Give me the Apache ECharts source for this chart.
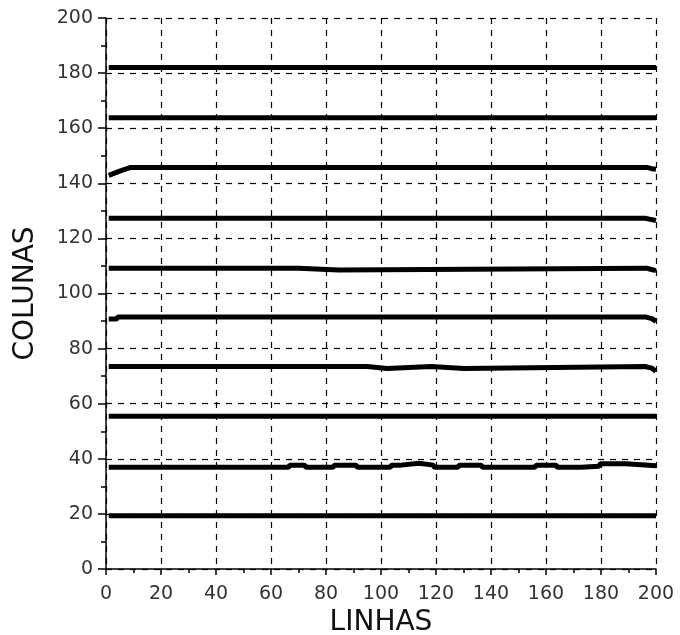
<!DOCTYPE html>
<html>
<head>
<meta charset="utf-8">
<script src="https://cdn.jsdelivr.net/npm/echarts@6/dist/echarts.min.js"></script>
<style>html,body{margin:0;padding:0;background:#fff}#c{width:680px;height:635px}</style>
</head>
<body>
<div id="c"></div>
<script>
var xTicks = [0, 20, 40, 60, 80, 100, 120, 140, 160, 180, 200];
var yTicks = [0, 20, 40, 60, 80, 100, 120, 140, 160, 180, 200];
var xAxisTitle = 'LINHAS';
var yAxisTitle = 'COLUNAS';

var line182 = [[1,182.0],[200,182.0]];
var line164 = [[1,163.8],[200,163.8]];
var line146 = [[1,142.9],[5,144.4],[8.7,145.7],[197,145.7],[198.5,145.3],[200,145.1]];
var line127 = [[1,127.3],[196,127.3],[198,126.9],[200,126.5]];
var line109 = [[1,109.2],[70,109.2],[70.3,108.5],[84.7,108.5],[85,109.2],[196.5,109.2],[198,108.8],[200,108.3]];
var line91  = [[1,90.7],[3.9,90.7],[4.3,91.5],[196,91.5],[198.5,90.9],[200,89.9]];
var line73  = [[1,73.5],[95,73.5],[95.3,72.8],[102.2,72.8],[102.5,73.5],[118.3,73.5],[118.6,72.8],[130.2,72.8],[130.5,73.5],[196,73.5],[198.5,72.9],[200,71.8]];
var line55  = [[1,55.4],[200,55.4]];
var line37  = [[1,36.9],[66.4,36.9],[66.8,37.7],[72.3,37.7],[72.7,36.9],[82.6,36.9],[83,37.7],[91,37.7],[91.4,36.9],[103.4,36.9],[103.8,37.7],[107.3,37.7],[107.7,38.4],[113.8,38.4],[114.2,37.7],[119,37.7],[119.4,36.9],[128,36.9],[128.4,37.7],[136.5,37.7],[136.9,36.9],[156,36.9],[156.4,37.7],[163.7,37.7],[164.1,36.9],[172.8,36.9],[173.2,37.3],[179.3,37.3],[179.7,38.2],[189,38.2],[189.4,37.5],[200,37.5]];
var line19  = [[1,19.3],[200,19.3]];

var allLines = [line182, line164, line146, line127, line109, line91, line73, line55, line37, line19];

var chart = echarts.init(document.getElementById('c'), null, {renderer: 'canvas'});
var font = 'DejaVu Sans';
chart.setOption({
  animation: false,
  backgroundColor: '#fff',
  grid: {left: 106, right: 24, top: 18, bottom: 66, containLabel: false, outerBoundsMode: 'none'},
  xAxis: {
    type: 'value', min: xTicks[0], max: xTicks[xTicks.length - 1], interval: 20,
    name: xAxisTitle, nameLocation: 'middle', nameGap: 38,
    nameTextStyle: {fontFamily: font, fontSize: 28, color: '#111'},
    axisLine: {show: true, onZero: false, lineStyle: {color: '#000', width: 1.5}},
    axisTick: {show: true, inside: false, length: 6, lineStyle: {color: '#000', width: 1.5}},
    minorTick: {show: true, splitNumber: 2, length: 4, lineStyle: {color: '#000', width: 1.5}},
    axisLabel: {fontFamily: font, fontSize: 19, color: '#333', margin: 16},
    splitLine: {show: true, lineStyle: {color: '#000', type: [6, 6], width: 1.2}}
  },
  yAxis: {
    type: 'value', min: yTicks[0], max: yTicks[yTicks.length - 1], interval: 20,
    name: yAxisTitle, nameLocation: 'middle', nameGap: 66,
    nameTextStyle: {fontFamily: font, fontSize: 28, color: '#111'},
    axisLine: {show: true, onZero: false, lineStyle: {color: '#000', width: 1.5}},
    axisTick: {show: true, inside: false, length: 8, lineStyle: {color: '#000', width: 1.5}},
    minorTick: {show: true, splitNumber: 2, length: 5, lineStyle: {color: '#000', width: 1.5}},
    axisLabel: {fontFamily: font, fontSize: 19, color: '#333', margin: 13},
    splitLine: {show: true, lineStyle: {color: '#000', type: [6, 6], width: 1.2}}
  },
  series: allLines.map(function (d) {
    return {
      type: 'line', data: d, showSymbol: false, symbol: 'none',
      lineStyle: {color: '#000', width: 5}, z: 5
    };
  })
});
</script>
</body>
</html>
